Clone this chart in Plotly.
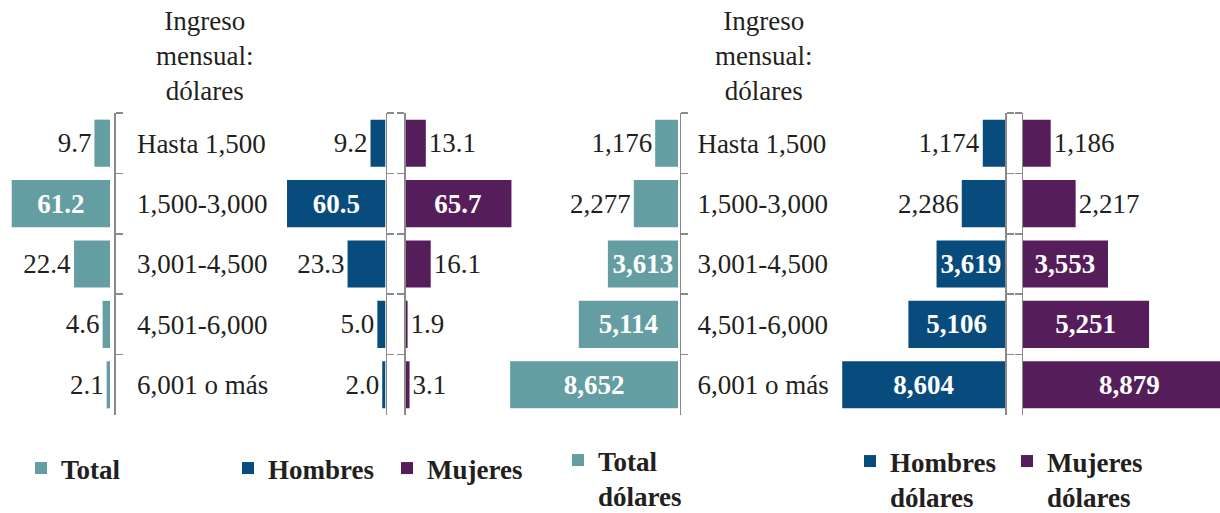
import plotly.graph_objects as go

categories = ["Hasta 1,500", "1,500-3,000", "3,001-4,500", "4,501-6,000", "6,001 o más"]
total_pct = [9.7, 61.2, 22.4, 4.6, 2.1]
hombres_pct = [9.2, 60.5, 23.3, 5.0, 2.0]
mujeres_pct = [13.1, 65.7, 16.1, 1.9, 3.1]
total_usd = [1176, 2277, 3613, 5114, 8652]
hombres_usd = [1174, 2286, 3619, 5106, 8604]
mujeres_usd = [1186, 2217, 3553, 5251, 8879]

W, H = 1220, 513
FONT = "Liberation Serif"
DARK = "#231F20"
TEAL = "#649EA2"
BLUE = "#084B7D"
PURPLE = "#551D5A"
AXC = "#8A8A8A"


def px(v):
    return v / W


def labels(vals, thr, fmt):
    txt, pos, col = [], [], []
    for v in vals:
        s = fmt(v)
        if v > thr:
            txt.append(f"<b>{s}</b>")
            pos.append("inside")
            col.append("white")
        else:
            txt.append(s)
            pos.append("outside")
            col.append(DARK)
    return txt, pos, col


pfmt = lambda v: f"{v:.1f}"
dfmt = lambda v: f"{v:,}"

series = [
    ("Total", total_pct, TEAL, 30, pfmt, "legend"),
    ("Hombres", hombres_pct, BLUE, 30, pfmt, "legend2"),
    ("Mujeres", mujeres_pct, PURPLE, 30, pfmt, "legend3"),
    ("Total<br>dólares", total_usd, TEAL, 3000, dfmt, "legend4"),
    ("Hombres<br>dólares", hombres_usd, BLUE, 3000, dfmt, "legend5"),
    ("Mujeres<br>dólares", mujeres_usd, PURPLE, 3000, dfmt, "legend6"),
]

fig = go.Figure()
for i, (name, vals, color, thr, fmt, lg) in enumerate(series):
    txt, pos, col = labels(vals, thr, fmt)
    sfx = "" if i == 0 else str(i + 1)
    fig.add_trace(go.Bar(
        y=categories, x=vals, orientation="h", name=name,
        marker=dict(color=color, line=dict(width=0)),
        text=txt, textposition=pos, textangle=0,
        textfont=dict(family=FONT, size=27, color=col),
        insidetextanchor="middle", constraintext="none",
        cliponaxis=(i == 5),
        xaxis="x" + sfx, yaxis="y" + sfx, legend=lg,
        hoverinfo="skip",
    ))

# x-axis domains (pixels) and ranges
xdefs = [
    ((0, 110), [68.5, 0]),
    ((274, 385.5), [68.5, 0]),
    ((404.5, 516), [0, 68.5]),
    ((500, 678), [9175, 0]),
    ((840, 1005), [8721, 0]),
    ((1022, 1220), [0, 8182]),
]
# y-axis line positions, sides, labels, standoff
ydefs = [
    (114, "right", True, 16),
    (385.5, "right", False, 0),
    (404, "left", False, 0),
    (679.5, "right", True, 11),
    (1005, "right", False, 0),
    (1021.5, "left", False, 0),
]

ydom = [1 - 415 / H, 1 - 113 / H]
layout = dict(
    width=W, height=H,
    margin=dict(l=0, r=0, t=0, b=0, autoexpand=False),
    paper_bgcolor="white", plot_bgcolor="rgba(0,0,0,0)",
    bargap=0.22,
    font=dict(family=FONT, color=DARK),
    showlegend=True,
)
for i, ((d0, d1), rng) in enumerate(xdefs):
    sfx = "" if i == 0 else str(i + 1)
    layout["xaxis" + sfx] = dict(domain=[px(d0), px(d1)], range=rng, visible=False,
                                 anchor="y" + sfx, fixedrange=True)
for i, (pos, side, showlab, standoff) in enumerate(ydefs):
    sfx = "" if i == 0 else str(i + 1)
    ya = dict(
        domain=ydom, type="category", categoryorder="array", categoryarray=categories,
        autorange="reversed", anchor="free", position=px(pos), side=side,
        showline=True, linecolor=AXC, linewidth=1.5,
        ticks="outside", tickson="boundaries", ticklen=7, tickwidth=1.5, tickcolor=AXC,
        showgrid=False, zeroline=False,
        showticklabels=showlab,
        tickfont=dict(family=FONT, size=27, color=DARK),
        ticklabelstandoff=standoff,
        fixedrange=True,
    )
    if i > 0:
        ya["matches"] = "y"
    layout["yaxis" + sfx] = ya

legpos = [(21, 444), (228, 444), (387, 444), (558, 436), (850, 437), (1007, 437)]
for i, (lx, ly) in enumerate(legpos):
    key = "legend" if i == 0 else f"legend{i + 1}"
    layout[key] = dict(
        x=px(lx), y=1 - ly / H, xanchor="left", yanchor="top",
        orientation="v", valign="top", bgcolor="rgba(0,0,0,0)",
        font=dict(family=FONT, size=27, color=DARK, weight="bold"),
        itemwidth=30, tracegroupgap=0,
    )

fig.update_layout(**layout)

title = "Ingreso<br>mensual:<br>dólares"
for cx in (204, 763):
    fig.add_annotation(text=title, x=px(cx), y=1 - 4 / H, xref="paper", yref="paper",
                       xanchor="center", yanchor="top", showarrow=False, align="center",
                       font=dict(family=FONT, size=27, color=DARK))

fig.write_html("out.html",
               config={"displayModeBar": False, "staticPlot": True},
               post_script="document.body.style.margin='0';document.body.style.overflow='hidden';")
